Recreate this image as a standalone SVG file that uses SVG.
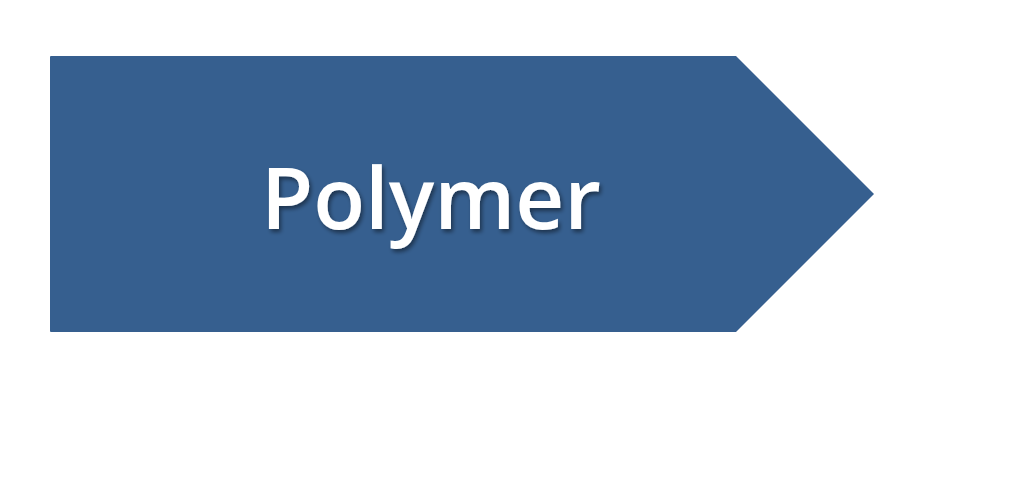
<svg xmlns="http://www.w3.org/2000/svg" width="1024" height="504" viewBox="0 0 1024 504">
<defs>
<filter id="sh" x="-10%" y="-20%" width="120%" height="150%">
<feGaussianBlur in="SourceAlpha" stdDeviation="2"/>
<feOffset dx="2" dy="3" result="b"/>
<feComponentTransfer><feFuncA type="linear" slope="0.45"/></feComponentTransfer>
<feMerge><feMergeNode/><feMergeNode in="SourceGraphic"/></feMerge>
</filter>
<style>
.lbl{font-family:"Open Sans","Noto Sans",sans-serif;font-weight:600;fill:#ffffff}
</style>
</defs>
<rect width="1024" height="504" fill="#ffffff"/>
<g id="polymer">
<path d="M51,56 L736,56 L874,194 L736,332 L51,332 Q50,332 50,331 L50,57 Q50,56 51,56 Z" fill="#365F8F"/>
<text class="lbl" x="431" y="229" font-size="85" text-anchor="middle" filter="url(#sh)">Polymer</text>
</g>
<g id="connectors"/>
</svg>
